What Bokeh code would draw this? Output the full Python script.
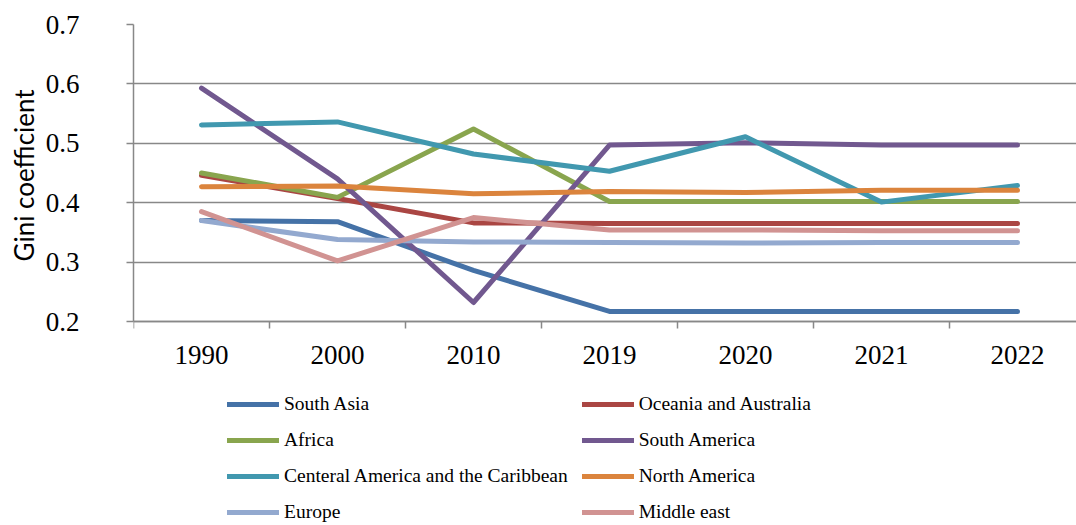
from bokeh.plotting import figure
from bokeh.models import Range1d, FixedTicker, Legend, LegendItem, Title
from bokeh.embed import file_html
from bokeh.resources import INLINE

years = ["1990", "2000", "2010", "2019", "2020", "2021", "2022"]

south_asia = [0.370, 0.368, 0.286, 0.217, 0.217, 0.217, 0.217]
oceania_australia = [0.446, 0.407, 0.366, 0.365, 0.365, 0.365, 0.365]
africa = [0.450, 0.409, 0.524, 0.402, 0.402, 0.402, 0.402]
south_america = [0.593, 0.440, 0.232, 0.497, 0.501, 0.497, 0.497]
central_america = [0.531, 0.536, 0.482, 0.453, 0.511, 0.401, 0.429]
north_america = [0.427, 0.428, 0.415, 0.419, 0.417, 0.421, 0.421]
europe = [0.370, 0.338, 0.334, 0.333, 0.332, 0.333, 0.333]
middle_east = [0.385, 0.302, 0.375, 0.354, 0.354, 0.353, 0.353]

series_names = ["South Asia", "Oceania and Australia", "Africa", "South America",
                "Centeral America and the Caribbean", "North America", "Europe", "Middle east"]
series_values = [south_asia, oceania_australia, africa, south_america,
                 central_america, north_america, europe, middle_east]
series_colors = ["#4572A7", "#AA4643", "#89A54E", "#71588F",
                 "#4198AF", "#DB843D", "#93A9CF", "#D19392"]

y_ticks = [0.2, 0.3, 0.4, 0.5, 0.6, 0.7]

GRAY = "#888888"
SERIF = "Liberation Serif"

xs = list(range(len(years)))

# frame covers the whole lower area so the legend can sit inside it;
# axes are bounded to the 0.2-0.7 data band
p = figure(width=1076, height=525, output_backend="svg", toolbar_location=None,
           x_range=Range1d(-0.5, 6.434), y_range=Range1d(-0.1434, 0.7),
           min_border_left=133, min_border_right=0, min_border_top=24,
           min_border_bottom=0)
p.outline_line_color = None
p.background_fill_color = "white"
p.border_fill_color = "white"

# grid
p.xgrid.visible = False
p.ygrid.ticker = FixedTicker(ticks=y_ticks)
p.ygrid.grid_line_color = GRAY
p.ygrid.grid_line_width = 1.5

# x axis, pinned at y = 0.2
xa = p.xaxis[0]
xa.fixed_location = 0.2
xa.ticker = FixedTicker(ticks=xs, minor_ticks=[i - 0.5 for i in range(len(years) + 1)])
xa.major_label_overrides = {i: y for i, y in enumerate(years)}
xa.major_tick_out = 0
xa.major_tick_in = 0
xa.minor_tick_out = 7
xa.minor_tick_in = 0
xa.minor_tick_line_color = GRAY
xa.minor_tick_line_width = 1.5
xa.axis_line_color = GRAY
xa.axis_line_width = 1.5
xa.major_label_text_font = SERIF
xa.major_label_text_font_size = "27px"
xa.major_label_text_color = "black"
xa.major_label_standoff = 17

# y axis
ya = p.yaxis[0]
ya.bounds = (0.2, 0.7)
ya.ticker = FixedTicker(ticks=y_ticks)
ya.major_label_overrides = {t: f"{t:.1f}" for t in y_ticks}
ya.major_tick_out = 7
ya.major_tick_in = 0
ya.minor_tick_out = 0
ya.minor_tick_in = 0
ya.major_tick_line_color = GRAY
ya.major_tick_line_width = 1.5
ya.axis_line_color = GRAY
ya.axis_line_width = 1.5
ya.major_label_text_font = SERIF
ya.major_label_text_font_size = "27px"
ya.major_label_text_color = "black"
ya.major_label_standoff = 47

# y axis title, placed alongside the 0.2-0.7 band
ytitle = Title(text="Gini coefficient", align="left", offset=264,
               text_font="Lato", text_font_size="26px", text_font_style="normal",
               text_color="black", standoff=6)
p.add_layout(ytitle, "left")

renderers = {}
for name, vals, col in zip(series_names, series_values, series_colors):
    r = p.line(xs, vals, line_color=col, line_width=5,
               line_cap="round", line_join="round")
    renderers[name] = r

# two columns, filled column by column (reference reads row by row)
legend_order = [series_names[i] for i in (0, 2, 4, 6, 1, 3, 5, 7)]
items = [LegendItem(label=n, renderers=[renderers[n]]) for n in legend_order]

legend = Legend(items=items, ncols=2, orientation="vertical",
                location=(94, 2),
                label_text_font=SERIF, label_text_font_size="19.5px",
                label_text_color="black",
                glyph_width=52, glyph_height=20, label_height=20,
                label_standoff=5, spacing=14, padding=0, margin=0,
                border_line_color=None, background_fill_alpha=0)
p.add_layout(legend, "center")

open("out.html", "w").write(file_html(p, INLINE))
